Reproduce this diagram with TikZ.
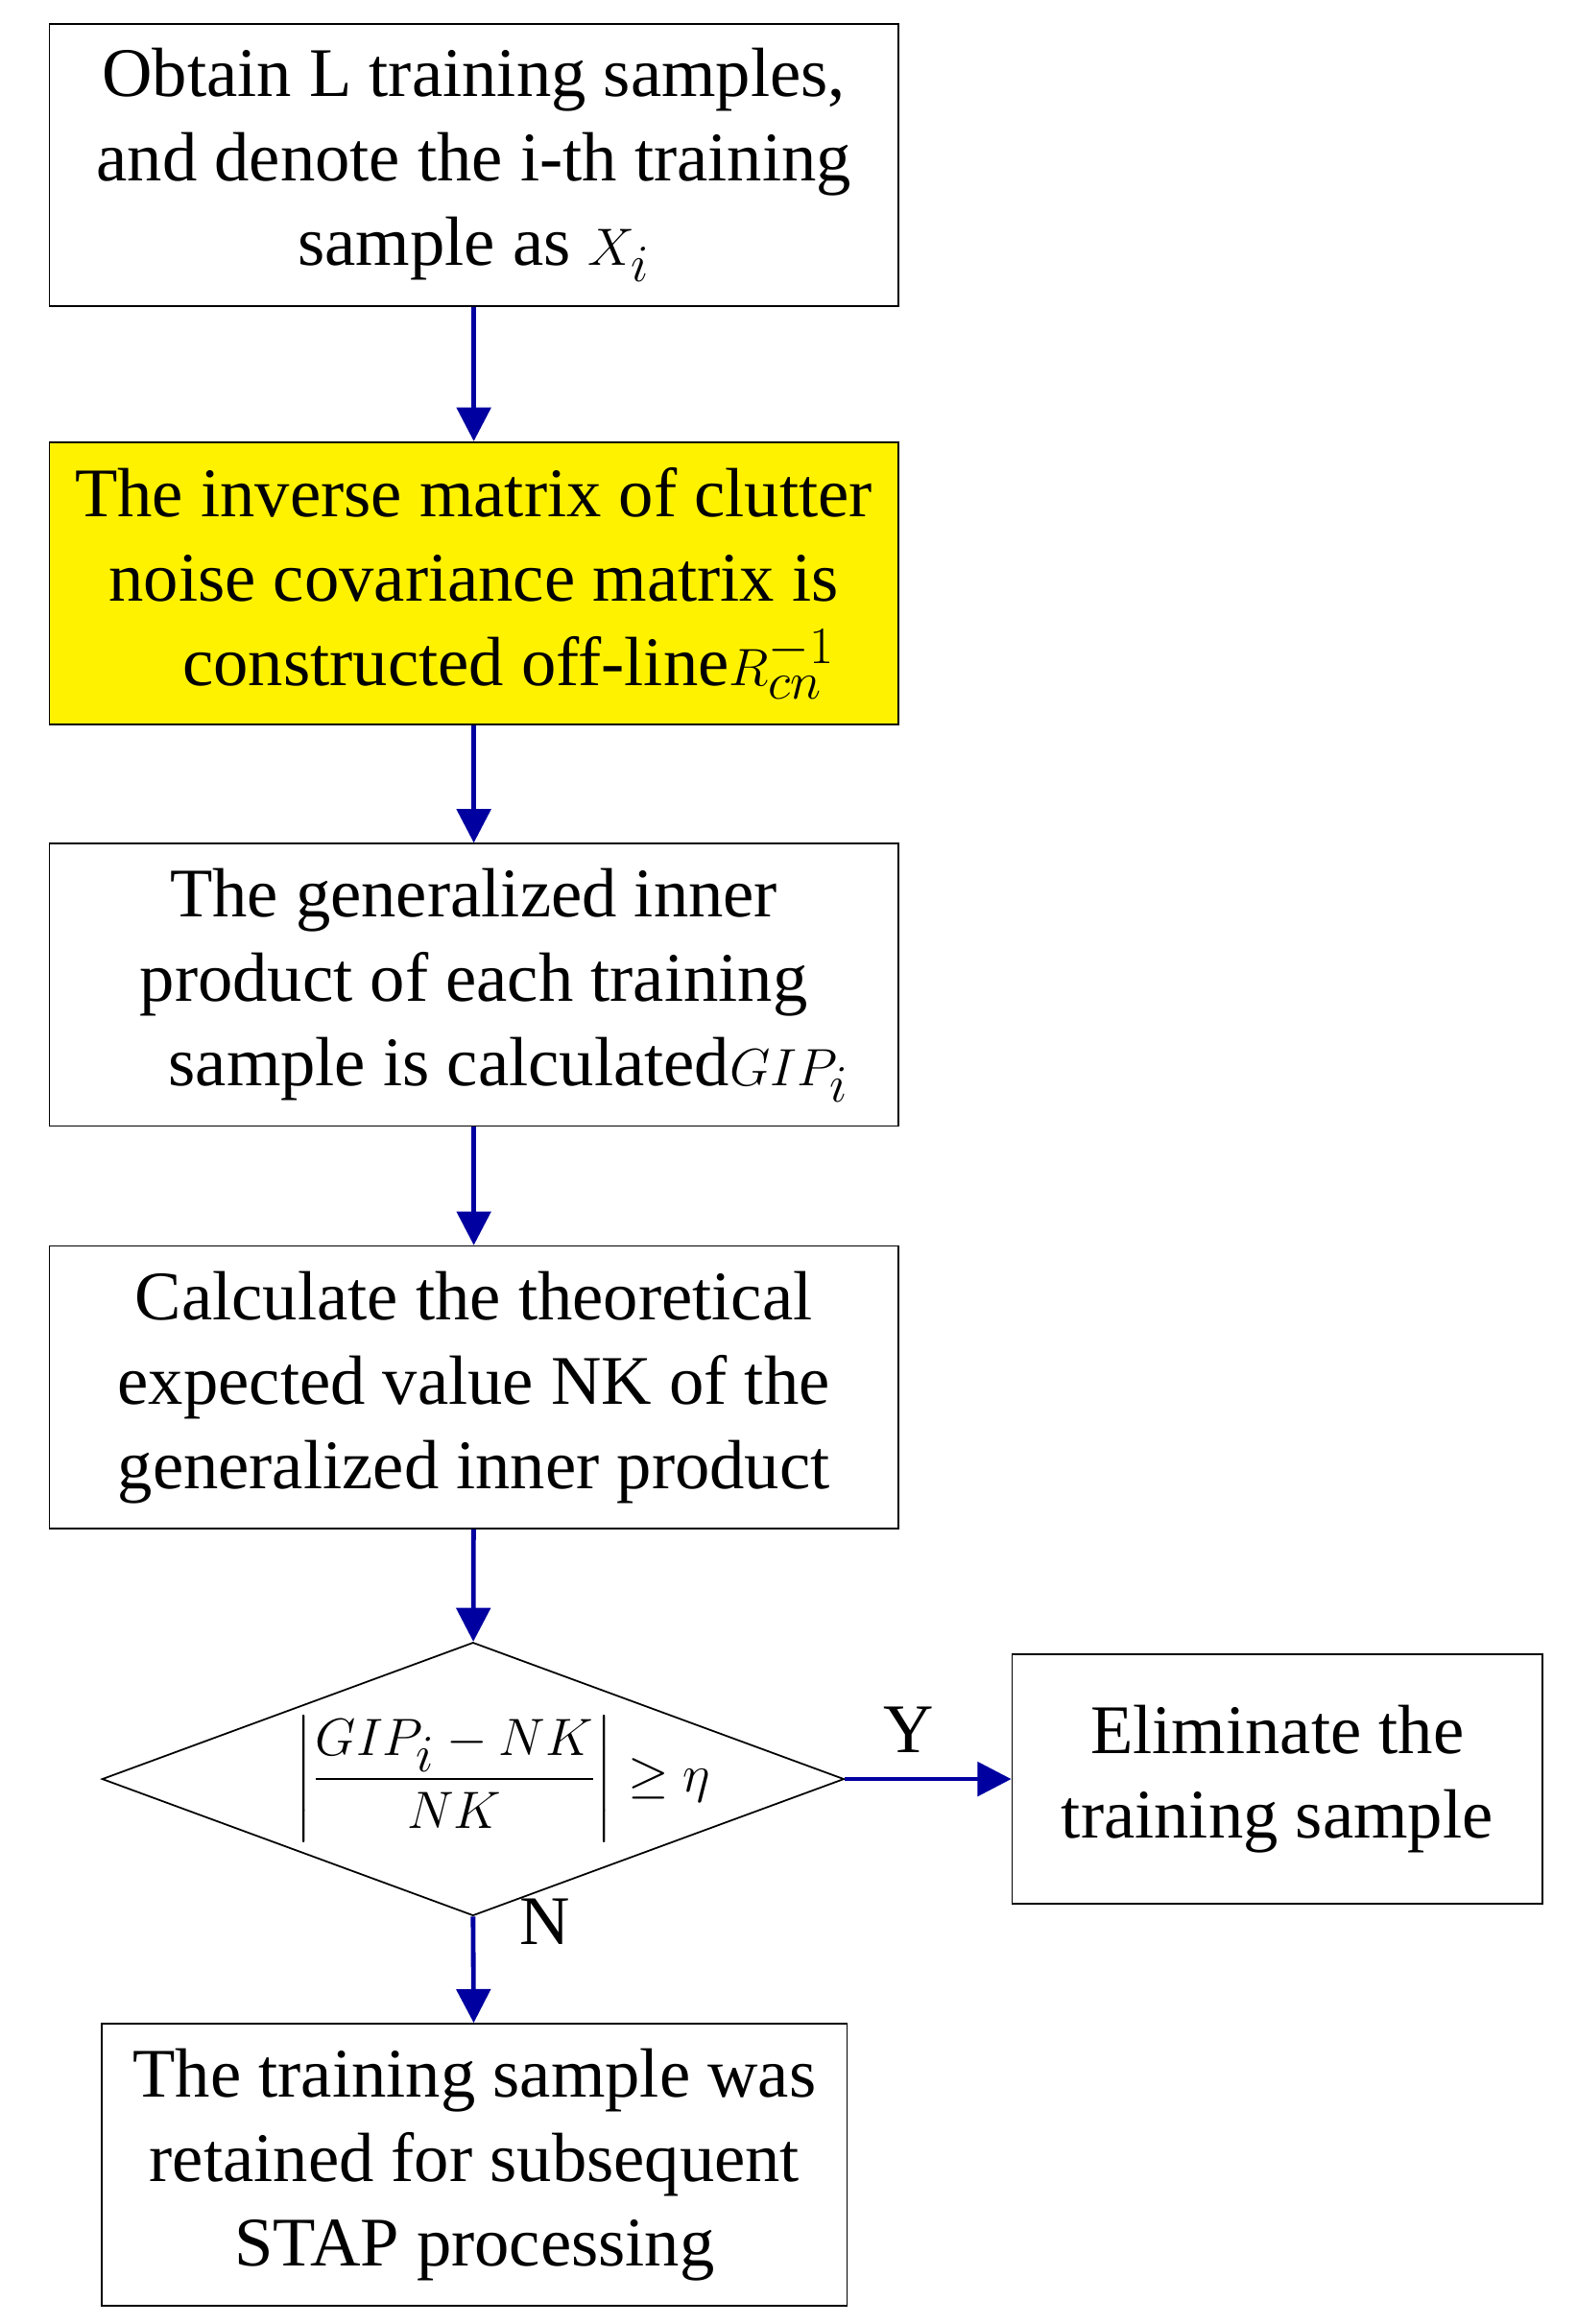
\documentclass[tikz,border=0pt]{standalone}
\usepackage{amsmath}
\usepackage{fontspec}
\setmainfont{Liberation Serif}
\usetikzlibrary{positioning,shapes.geometric,arrows.meta}
\definecolor{flowblue}{RGB}{0,0,160}
\tikzset{
  stepbox/.style={draw,line width=0.8pt,minimum width=14.125cm,minimum height=4.7cm,align=center,
    font=\fontsize{33}{40}\selectfont,inner sep=0pt},
  flow/.style={-{Triangle[length=16pt,width=16pt]},draw=flowblue,fill=flowblue,line width=2.2pt}
}
\begin{document}
\begin{tikzpicture}[x=0.025cm,y=-0.025cm]
  \useasboundingbox (0,0) rectangle (1050,1548);
  \node[stepbox] (obtain) at (315.5,110) {Obtain L training samples,\\ and denote the i-th training\\ sample as $X_i$};
  \node[stepbox,fill=yellow] (inverse) at (315.5,388.5) {The inverse matrix of clutter\\ noise covariance matrix is\\ \quad constructed off-line$R_{cn}^{-1}$};
  \node[stepbox] (gip) at (315.5,656) {The generalized inner\\ product of each training\\ \quad sample is calculated$GIP_i$};
  \node[stepbox] (expect) at (315.5,924) {Calculate the theoretical\\ expected value NK of the\\ generalized inner product};
  \node[draw,diamond,line width=0.8pt,minimum width=12.35cm,minimum height=4.55cm,inner sep=0pt] (test) at (315,1185) {};
  \node[font=\fontsize{33}{40}\selectfont] (testtext) at (335,1185) {$\left|\dfrac{GIP_i-NK}{NK}\right|\ge\eta$};
  \node[stepbox,minimum width=8.825cm,minimum height=4.15cm] (elim) at (850.5,1185) {Eliminate the\\ training sample};
  \node[stepbox,minimum width=12.4cm] (retain) at (316,1442) {The training sample was\\ retained for subsequent\\ STAP processing};
  \node[font=\fontsize{33}{40}\selectfont] (ylab) at (605,1152) {Y};
  \node[font=\fontsize{33}{40}\selectfont] (nlab) at (363,1280) {N};
  % connectors
  \draw[flow] (obtain) -- (inverse);
  \draw[flow] (inverse) -- (gip);
  \draw[flow] (gip) -- (expect);
  \draw[flow] (expect) -- (test);
  \draw[flow] (test.east) -- (elim);
  \draw[flow] (test.south) -- (retain);
\end{tikzpicture}
\end{document}
